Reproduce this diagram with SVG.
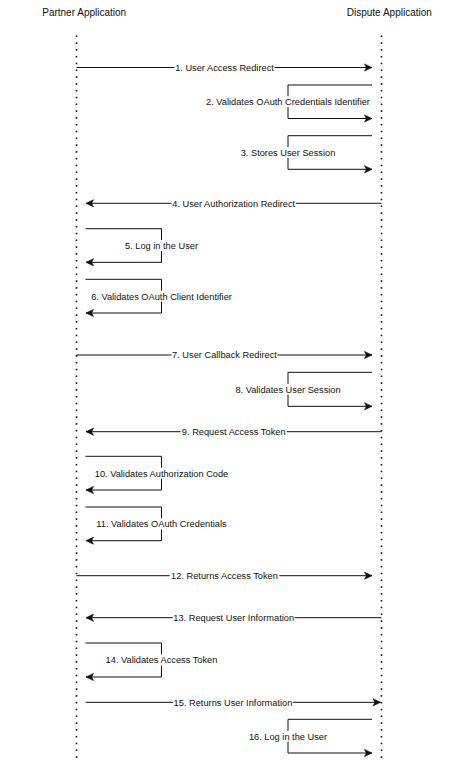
<svg xmlns="http://www.w3.org/2000/svg" width="474" height="763" viewBox="0 0 474 763">
<style>
.bg{fill:#fff}
.title{font-family:"Liberation Sans",Helvetica,Arial,sans-serif;font-size:10px;fill:#111;text-anchor:middle}
.lbl{font-family:"Liberation Sans",Helvetica,Arial,sans-serif;font-size:9.25px;fill:#111;text-anchor:middle}
.life{stroke:#111;stroke-width:1.6;stroke-dasharray:1.6 5.2;fill:none}
.msg{stroke:#111;stroke-width:1;fill:none;marker-end:url(#arr)}
.lb{fill:#fff}
</style>
<defs>
<marker id="arr" markerUnits="userSpaceOnUse" viewBox="-8 -4 9 8" refX="0" refY="0" markerWidth="9" markerHeight="8" orient="auto" overflow="visible">
<path d="M0,0 L-7.5,-3.6 L-5.6,0 L-7.5,3.6 Z" fill="#111" stroke="#111" stroke-width="0.6" stroke-linejoin="miter"/>
</marker>
</defs>
<rect class="bg" x="0" y="0" width="474" height="763"/>
<g id="partner">
<text class="title" x="84.2" y="16.3">Partner Application</text>
<line class="life" x1="76.5" y1="35.5" x2="76.5" y2="763"/>
</g>
<g id="dispute">
<text class="title" x="389.3" y="16.3">Dispute Application</text>
<line class="life" x1="381.5" y1="35.5" x2="381.5" y2="763"/>
</g>
<g id="connectors">
<g id="m1"><path class="msg" d="M76.5,67.5 H372"/><rect class="lb" x="174.4" y="62" width="100.2" height="11"/><text class="lbl" x="224.5" y="70.8">1. User Access Redirect</text></g>
<g id="m2"><path class="msg" d="M372,85 H288 V118.5 H372"/><rect class="lb" x="205.25" y="96.2" width="165.5" height="11"/><text class="lbl" x="288" y="105">2. Validates OAuth Credentials Identifier</text></g>
<g id="m3"><path class="msg" d="M372,135.7 H288 V169.3 H372"/><rect class="lb" x="240.2" y="147" width="95.6" height="11"/><text class="lbl" x="288" y="155.8">3. Stores User Session</text></g>
<g id="m4"><path class="msg" d="M381.5,203.3 H86"/><rect class="lb" x="171.5" y="197.8" width="124.4" height="11"/><text class="lbl" x="233.7" y="206.6">4. User Authorization Redirect</text></g>
<g id="m5"><path class="msg" d="M85.5,228.7 H161.5 V262.3 H86"/><rect class="lb" x="124.5" y="240" width="74" height="11"/><text class="lbl" x="161.5" y="248.8">5. Log in the User</text></g>
<g id="m6"><path class="msg" d="M85.5,279.3 H161.5 V313 H86"/><rect class="lb" x="90.3" y="290.7" width="142.4" height="11"/><text class="lbl" x="161.5" y="299.5">6. Validates OAuth Client Identifier</text></g>
<g id="m7"><path class="msg" d="M76.5,355 H372"/><rect class="lb" x="171.55" y="349.5" width="105.9" height="11"/><text class="lbl" x="224.5" y="358.3">7. User Callback Redirect</text></g>
<g id="m8"><path class="msg" d="M372,372.3 H288 V406.3 H372"/><rect class="lb" x="234.55" y="383.8" width="106.9" height="11"/><text class="lbl" x="288" y="392.6">8. Validates User Session</text></g>
<g id="m9"><path class="msg" d="M381.5,431.7 H86"/><rect class="lb" x="180.5" y="426.2" width="106.4" height="11"/><text class="lbl" x="233.7" y="435">9. Request Access Token</text></g>
<g id="m10"><path class="msg" d="M85.5,456.3 H161.5 V490 H86"/><rect class="lb" x="93.65" y="467.7" width="135.7" height="11"/><text class="lbl" x="161.5" y="476.5">10. Validates Authorization Code</text></g>
<g id="m11"><path class="msg" d="M85.5,507 H161.5 V540.7 H86"/><rect class="lb" x="95.2" y="518.4" width="132.6" height="11"/><text class="lbl" x="161.5" y="527.2">11. Validates OAuth Credentials</text></g>
<g id="m12"><path class="msg" d="M76.5,575.7 H372"/><rect class="lb" x="169.75" y="570.2" width="109.5" height="11"/><text class="lbl" x="224.5" y="579">12. Returns Access Token</text></g>
<g id="m13"><path class="msg" d="M381.5,617.7 H86"/><rect class="lb" x="172.8" y="612.2" width="121.8" height="11"/><text class="lbl" x="233.7" y="621">13. Request User Information</text></g>
<g id="m14"><path class="msg" d="M85.5,643 H161.5 V677 H86"/><rect class="lb" x="103.95" y="654.5" width="115.1" height="11"/><text class="lbl" x="161.5" y="663.3">14. Validates Access Token</text></g>
<g id="m15"><path class="msg" d="M85.5,702.3 H380.5"/><rect class="lb" x="173.1" y="696.8" width="119.8" height="11"/><text class="lbl" x="233" y="705.6">15. Returns User Information</text></g>
<g id="m16"><path class="msg" d="M372,719.3 H288 V753 H372"/><rect class="lb" x="248.4" y="730.7" width="79.2" height="11"/><text class="lbl" x="288" y="739.5">16. Log in the User</text></g>
</g>
</svg>
